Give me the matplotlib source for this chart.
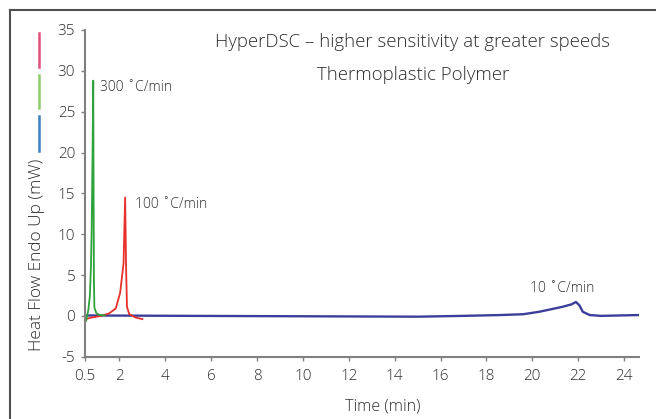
import matplotlib
matplotlib.use("Agg")
import matplotlib.pyplot as plt
from matplotlib.lines import Line2D

plt.rcParams['font.family'] = ['Open Sans', 'DejaVu Sans']
plt.rcParams['font.weight'] = 'light'
plt.rcParams['axes.unicode_minus'] = False

# 300 C/min (green)
t300 = [0.5, 0.56, 0.65, 0.71, 0.76, 0.79, 0.83, 0.86, 0.875, 0.89, 0.91, 1.0, 1.15, 1.36]
h300 = [-0.8, -0.5, 0.8, 2.4, 6.0, 10.5, 20.0, 28.8, 15.0, 4.0, 1.0, 0.3, 0.1, 0.05]
# 100 C/min (red)
t100 = [0.5, 0.8, 1.2, 1.55, 1.84, 2.03, 2.18, 2.25, 2.29, 2.33, 2.43, 2.7, 3.0]
h100 = [-0.4, -0.2, 0.0, 0.3, 0.9, 2.8, 6.4, 14.5, 6.0, 1.1, 0.2, -0.2, -0.4]
# 10 C/min (blue)
t10 = [0.5, 5, 10, 15, 17, 18.6, 19.6, 20.3, 21.3, 21.7, 21.9, 22.05, 22.2, 22.5, 23.0, 24.65]
h10 = [0.05, 0.0, -0.05, -0.1, 0.0, 0.1, 0.2, 0.5, 1.1, 1.4, 1.7, 1.3, 0.5, 0.1, 0.0, 0.1]

xticks = [0.5, 2, 4, 6, 8, 10, 12, 14, 16, 18, 20, 22, 24]
xticklabels = ['0.5', '2', '4', '6', '8', '10', '12', '14', '16', '18', '20', '22', '24']
yticks = [-5, 0, 5, 10, 15, 20, 25, 30, 35]

W, H = 656, 419
fig = plt.figure(figsize=(W / 100, H / 100), dpi=100)
ax = fig.add_axes([85 / W, (H - 356.7) / H, (639 - 85) / W, (356.7 - 30) / H])

txt = '#2e2e2e'
ax.plot(t10, h10, color='#3b3f9a', lw=1.7)
ax.plot(t100, h100, color='#e8302a', lw=1.3)
ax.plot(t300, h300, color='#2ea33a', lw=1.3)

ax.set_xlim(0.5, 24.65)
ax.set_ylim(-5, 35)
ax.set_xticks(xticks)
ax.set_xticklabels(xticklabels)
ax.set_yticks(yticks)
for s in ['top', 'right']:
    ax.spines[s].set_visible(False)
for s in ['left', 'bottom']:
    ax.spines[s].set_color('#808080')
    ax.spines[s].set_linewidth(1.5)
ax.tick_params(axis='both', colors='#808080', labelcolor=txt, labelsize=11, length=3, width=1)
ax.tick_params(axis='x', pad=6)
ax.tick_params(axis='y', pad=4)

ax.text(1.15, 28.0, '300 ˚C/min', fontsize=10, color=txt, va='center', ha='left')
ax.text(2.7, 13.6, '100 ˚C/min', fontsize=10, color=txt, va='center', ha='left')
ax.text(21.3, 3.4, '10 ˚C/min', fontsize=10, color=txt, va='center', ha='center')

fig.text(413 / W, 1 - 42 / H, 'HyperDSC – higher sensitivity at greater speeds', fontsize=13.4,
         color=txt, ha='center', va='center')
fig.text(413 / W, 1 - 75 / H, 'Thermoplastic Polymer', fontsize=13.4,
         color=txt, ha='center', va='center')
fig.text(37 / W, 1 - 255 / H, 'Heat Flow Endo Up (mW)', fontsize=12.4, color=txt,
         rotation=90, ha='center', va='center')
fig.text(383 / W, 1 - 406 / H, 'Time (min)', fontsize=11.6, color=txt, ha='center', va='center')

# legend-like vertical colour keys
for (y0, y1, c) in [(33, 67, '#e0507a'), (75, 108, '#8ccc6a'), (116, 151, '#3d7fc4')]:
    fig.add_artist(Line2D([39 / W, 39 / W], [1 - y0 / H, 1 - y1 / H], color=c, lw=1.8,
                          transform=fig.transFigure))

# outer frame (top and left)
fig.add_artist(Line2D([10 / W, 10 / W], [0, 1 - 10 / H], color='#505050', lw=1.5,
                      transform=fig.transFigure))
fig.add_artist(Line2D([10 / W, 1], [1 - 10 / H, 1 - 10 / H], color='#505050', lw=1.5,
                      transform=fig.transFigure))

fig.savefig('out.png', dpi=100)
